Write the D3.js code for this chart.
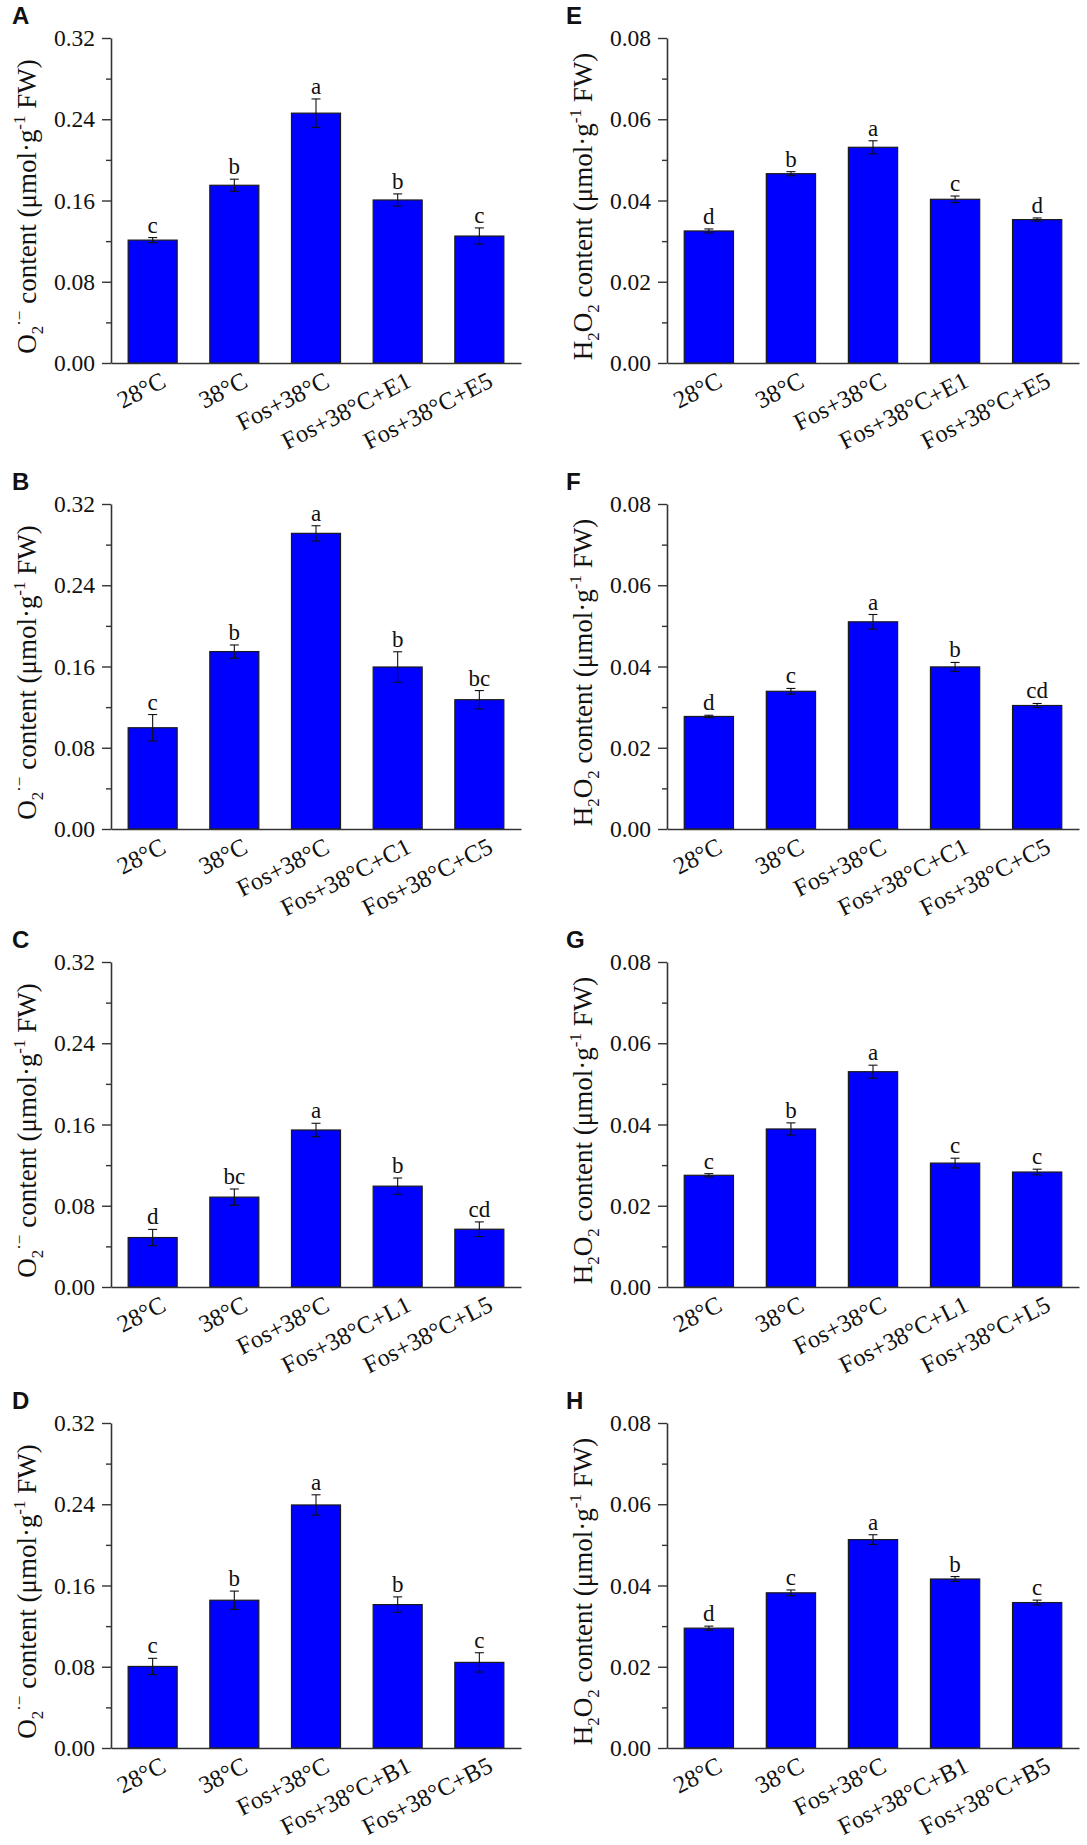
<!DOCTYPE html>
<html>
<head>
<meta charset="utf-8">
<script src="https://cdn.jsdelivr.net/npm/d3@7"></script>
<style>
  body { margin: 0; background: #fff; }
  svg text { font-family: "Liberation Serif", "Times New Roman", serif; fill: #111; }
  .panel-letter { font-family: "Liberation Sans", Arial, sans-serif; font-weight: bold; }
</style>
</head>
<body>
<div id="chart"></div>
<script>
//////////////////////////// data /////////////////////////////////////////

const catsE = ["28°C", "38°C", "Fos+38°C", "Fos+38°C+E1", "Fos+38°C+E5"];
const catsC = ["28°C", "38°C", "Fos+38°C", "Fos+38°C+C1", "Fos+38°C+C5"];
const catsL = ["28°C", "38°C", "Fos+38°C", "Fos+38°C+L1", "Fos+38°C+L5"];
const catsB = ["28°C", "38°C", "Fos+38°C", "Fos+38°C+B1", "Fos+38°C+B5"];

const o2Ticks = [0, 0.08, 0.16, 0.24, 0.32];
const o2Minor = [0.04, 0.12, 0.2, 0.28];
const h2o2Ticks = [0, 0.02, 0.04, 0.06, 0.08];
const h2o2Minor = [0.01, 0.03, 0.05, 0.07];

// O2·- content
const valA = [0.121, 0.175, 0.246, 0.1605, 0.125];
const errA = [0.0025, 0.006, 0.014, 0.006, 0.008];
const sigA = ["c", "b", "a", "b", "c"];

const valB = [0.0997, 0.1747, 0.2911, 0.1595, 0.1273];
const errB = [0.013, 0.0065, 0.0075, 0.015, 0.009];
const sigB = ["c", "b", "a", "b", "bc"];

const valC = [0.0487, 0.0885, 0.1546, 0.0993, 0.0569];
const errC = [0.008, 0.008, 0.0066, 0.008, 0.0072];
const sigC = ["d", "bc", "a", "b", "cd"];

const valD = [0.0803, 0.1455, 0.2393, 0.1412, 0.0843];
const errD = [0.008, 0.009, 0.01, 0.0076, 0.0095];
const sigD = ["c", "b", "a", "b", "c"];

// H2O2 content
const valE = [0.0325, 0.0466, 0.0531, 0.0403, 0.0353];
const errE = [0.0005, 0.0005, 0.0016, 0.0008, 0.0004];
const sigE = ["d", "b", "a", "c", "d"];

const valF = [0.0277, 0.0339, 0.051, 0.0399, 0.0304];
const errF = [0.0003, 0.0007, 0.0018, 0.0011, 0.0005];
const sigF = ["d", "c", "a", "b", "cd"];

const valG = [0.0275, 0.0389, 0.053, 0.0305, 0.0283];
const errG = [0.0004, 0.0015, 0.0016, 0.0012, 0.0007];
const sigG = ["c", "b", "a", "c", "c"];

const valH = [0.0295, 0.0382, 0.0513, 0.0416, 0.0358];
const errH = [0.0005, 0.0007, 0.0012, 0.0006, 0.0006];
const sigH = ["d", "c", "a", "b", "c"];

const panels = [
	{ id: "A", col: 0, row: 0, cats: catsE, vals: valA, errs: errA, sig: sigA, kind: "o2" },
	{ id: "B", col: 0, row: 1, cats: catsC, vals: valB, errs: errB, sig: sigB, kind: "o2" },
	{ id: "C", col: 0, row: 2, cats: catsL, vals: valC, errs: errC, sig: sigC, kind: "o2" },
	{ id: "D", col: 0, row: 3, cats: catsB, vals: valD, errs: errD, sig: sigD, kind: "o2" },
	{ id: "E", col: 1, row: 0, cats: catsE, vals: valE, errs: errE, sig: sigE, kind: "h2o2" },
	{ id: "F", col: 1, row: 1, cats: catsC, vals: valF, errs: errF, sig: sigF, kind: "h2o2" },
	{ id: "G", col: 1, row: 2, cats: catsL, vals: valG, errs: errG, sig: sigG, kind: "h2o2" },
	{ id: "H", col: 1, row: 3, cats: catsB, vals: valH, errs: errH, sig: sigH, kind: "h2o2" }
];

//////////////////////////// sizes ///////////////////////////////////

const width = 1087;
const height = 1845;
const rowTop = [38, 504, 962, 1423];
const colX = [111, 667];
const letterX = [12, 566];
const titleX = [36, 592];
const plotW = [410, 412];
const plotH = 325;
const serif = "'Liberation Serif', 'Times New Roman', serif";

const svg = d3
	.select("#chart")
	.append("svg")
	.attr("width", width)
	.attr("height", height);

svg.append("rect").attr("width", width).attr("height", height).attr("fill", "#fff");

//////////////////////////// draw one panel /////////////////////////////

const drawPanel = (p) => {
	const x0 = colX[p.col];
	const y0 = rowTop[p.row];
	const isO2 = p.kind === "o2";

	const data = p.cats.map((c, i) => ({ cat: c, val: p.vals[i], err: p.errs[i], sig: p.sig[i] }));

	const y = d3
		.scaleLinear()
		.domain([0, isO2 ? 0.32 : 0.08])
		.range([plotH, 0]);

	const x = d3
		.scaleBand()
		.domain(p.cats)
		.range([0, plotW[p.col]])
		.paddingInner(0.4)
		.paddingOuter(0.21);

	const cx = (d) => x(d.cat) + x.bandwidth() / 2;

	const g = svg.append("g").attr("transform", `translate(${x0},${y0})`);

	// panel letter
	svg
		.append("text")
		.attr("class", "panel-letter")
		.attr("x", letterX[p.col])
		.attr("y", y0 - 14)
		.style("font-family", "'Liberation Sans', Arial, sans-serif")
		.style("font-size", "24px")
		.text(p.id);

	// bars
	g.selectAll(".bar")
		.data(data)
		.join("rect")
		.attr("class", "bar")
		.attr("x", (d) => x(d.cat))
		.attr("y", (d) => y(d.val))
		.attr("width", x.bandwidth())
		.attr("height", (d) => plotH - y(d.val))
		.attr("fill", "#0000fe")
		.attr("stroke", "#1a1a1a")
		.attr("stroke-width", 1.2);

	// error bars
	const cap = 4.5;
	const eb = g.selectAll(".err").data(data).join("g").attr("class", "err")
		.attr("stroke", "#111").attr("stroke-width", 1.1);
	eb.append("line")
		.attr("x1", cx)
		.attr("x2", cx)
		.attr("y1", (d) => y(d.val - d.err))
		.attr("y2", (d) => y(d.val + d.err));
	eb.append("line")
		.attr("x1", (d) => cx(d) - cap)
		.attr("x2", (d) => cx(d) + cap)
		.attr("y1", (d) => y(d.val + d.err))
		.attr("y2", (d) => y(d.val + d.err));
	eb.append("line")
		.attr("x1", (d) => cx(d) - cap)
		.attr("x2", (d) => cx(d) + cap)
		.attr("y1", (d) => y(d.val - d.err))
		.attr("y2", (d) => y(d.val - d.err));

	// significance letters
	g.selectAll(".sig")
		.data(data)
		.join("text")
		.attr("class", "sig")
		.attr("x", cx)
		.attr("y", (d) => y(d.val + d.err) - 5)
		.attr("text-anchor", "middle")
		.style("font-family", serif)
		.style("font-size", "23px")
		.text((d) => d.sig);

	// y axis
	const yAxis = g.append("g")
		.call(
			d3.axisLeft(y)
				.tickValues(isO2 ? o2Ticks : h2o2Ticks)
				.tickFormat(d3.format(".2f"))
				.tickSize(9)
				.tickSizeOuter(0)
				.tickPadding(7)
		);
	yAxis.select(".domain").attr("stroke", "#333").attr("stroke-width", 1.6);
	yAxis.selectAll(".tick line").attr("stroke", "#333").attr("stroke-width", 1.4);
	yAxis.selectAll(".tick text")
		.style("font-size", "23.5px")
		.style("font-family", serif)
		.attr("fill", "#111");

	const yMinor = g.append("g")
		.call(
			d3.axisLeft(y)
				.tickValues(isO2 ? o2Minor : h2o2Minor)
				.tickFormat("")
				.tickSize(5)
		);
	yMinor.select(".domain").remove();
	yMinor.selectAll(".tick line").attr("stroke", "#333").attr("stroke-width", 1.4);

	// x axis
	const xAxis = g.append("g")
		.attr("transform", `translate(0,${plotH})`)
		.call(d3.axisBottom(x).tickSize(0).tickSizeOuter(0));
	xAxis.select(".domain").attr("stroke", "#333").attr("stroke-width", 1.6);
	xAxis.selectAll(".tick text")
		.attr("y", 0)
		.attr("dy", null)
		.attr("text-anchor", "end")
		.attr("transform", "translate(15,23) rotate(-27)")
		.style("font-size", "24.5px")
		.style("font-family", serif)
		.attr("fill", "#111");

	// y title
	const title = svg.append("text")
		.attr("transform", `translate(${titleX[p.col]},${y0 + plotH / 2 + 6}) rotate(-90)`)
		.attr("text-anchor", "middle")
		.style("font-family", serif)
		.style("font-size", "27px");
	const sub = (t) => title.append("tspan").attr("dy", 7).style("font-size", "17px").text(t);
	const sup = (t, dy) => title.append("tspan").attr("dy", dy).style("font-size", "17px").text(t);
	const norm = (t, dy) => title.append("tspan").attr("dy", dy).text(t);
	if (isO2) {
		norm("O", 0);
		sub("2");
		sup("·−", -18);
		norm(" content (μmol·g", 11);
		sup("-1", -11);
		norm(" FW)", 11);
	} else {
		norm("H", 0);
		sub("2");
		norm("O", -7);
		sub("2");
		norm(" content (μmol·g", -7);
		sup("-1", -11);
		norm(" FW)", 11);
	}
};

panels.forEach(drawPanel);
</script>
</body>
</html>
